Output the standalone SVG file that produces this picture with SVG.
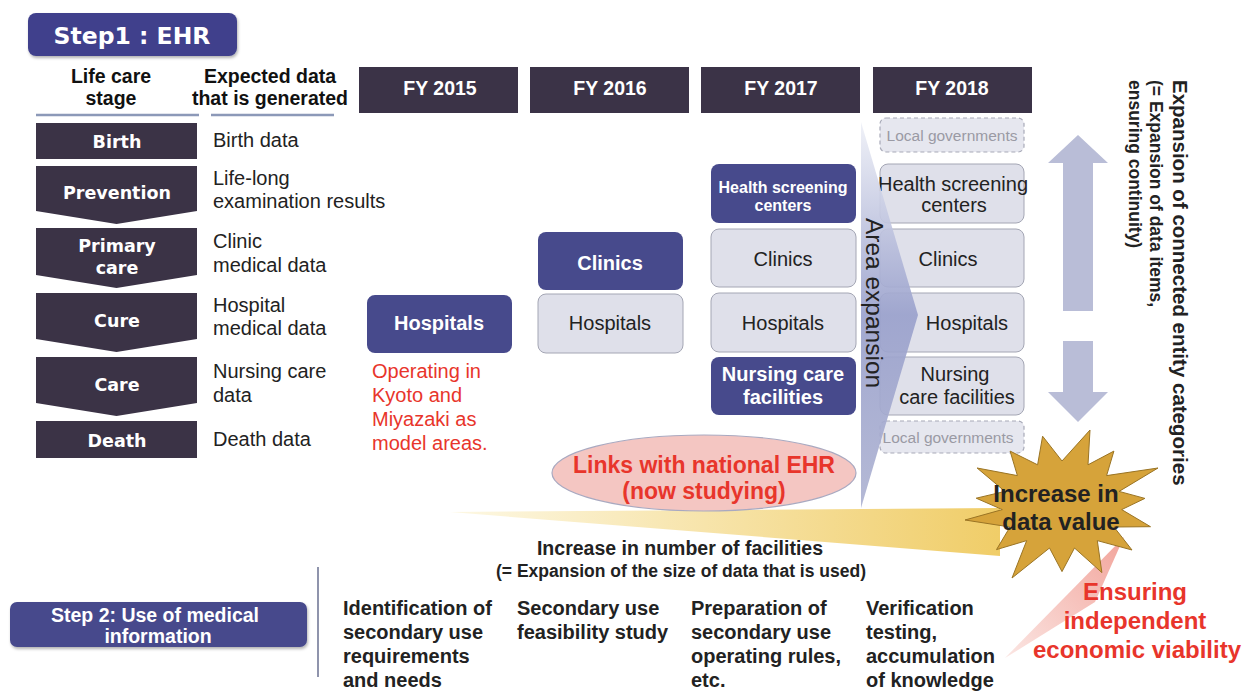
<svg xmlns="http://www.w3.org/2000/svg" width="1259" height="691" viewBox="0 0 1259 691">
<defs>
<style>
.sans{font-family:"Liberation Sans",Arial,sans-serif}
.stage{fill:#3b3346}
.stxt{font-family:"DejaVu Sans",Verdana,sans-serif;font-weight:bold;font-size:17.5px;fill:#fff;text-anchor:middle}
.fy{fill:#3b3347}
.fytxt{font-family:"Liberation Sans",Arial,sans-serif;font-weight:bold;font-size:19.5px;fill:#fff;text-anchor:middle}
.hdr{font-family:"Liberation Sans",Arial,sans-serif;font-weight:bold;font-size:19.5px;fill:#111;text-anchor:middle}
.data{font-family:"Liberation Sans",Arial,sans-serif;font-size:20px;fill:#222}
.dark{fill:#474a8c}
.light{fill:#dfe0ea;stroke:#a4a6b4;stroke-width:1}
.local{fill:#e6e7ef;stroke:#a8aab8;stroke-width:1.2;stroke-dasharray:4 3}
.wb{font-family:"Liberation Sans",Arial,sans-serif;font-weight:bold;fill:#fff;text-anchor:middle}
.reg{font-family:"Liberation Sans",Arial,sans-serif;font-size:20px;fill:#222;text-anchor:middle}
.gray{font-family:"Liberation Sans",Arial,sans-serif;font-size:15.5px;fill:#9a9aa4;text-anchor:middle}
.red{font-family:"Liberation Sans",Arial,sans-serif;fill:#e8352b}
.bold{font-family:"Liberation Sans",Arial,sans-serif;font-weight:bold;fill:#222}
.arrow{fill:#b9bdd7}
</style>
<linearGradient id="areaGrad" x1="0" y1="0" x2="0" y2="1">
<stop offset="0" stop-color="#eef0f7"/>
<stop offset="0.5" stop-color="#9aa1cc"/>
<stop offset="1" stop-color="#aeb3d2"/>
</linearGradient>
<linearGradient id="yellowGrad" x1="0" y1="0" x2="1" y2="0">
<stop offset="0" stop-color="#fdf8e4"/>
<stop offset="1" stop-color="#f0cd68"/>
</linearGradient>
<linearGradient id="pinkGrad" x1="0" y1="1" x2="1" y2="0">
<stop offset="0" stop-color="#fbe6e3"/>
<stop offset="1" stop-color="#f2a49b"/>
</linearGradient>
<filter id="sh" x="-10%" y="-10%" width="120%" height="130%">
<feDropShadow dx="1" dy="2" stdDeviation="1.5" flood-color="#000" flood-opacity="0.3"/>
</filter>
</defs>
<rect width="1259" height="691" fill="#fff"/>

<!-- connectors / flow shapes -->
<g id="connectors">
<polygon points="450,512 1000,508 1000,556" fill="url(#yellowGrad)"/>
<polygon points="1005,658 1124,537 1095,602" fill="url(#pinkGrad)"/>
<path class="arrow" d="M1078,135 L1108,163 H1093 V311 H1063 V163 H1048 Z"/>
<path class="arrow" d="M1063,341 H1093 V392 H1108 L1078,422 L1048,392 H1063 Z"/>
<line x1="318" y1="567" x2="318" y2="677" stroke="#6a7090" stroke-width="1.5"/>
</g>

<!-- Step 1 title -->
<g id="step1">
<rect x="28" y="13" width="209" height="43" rx="8" fill="#3f418c" filter="url(#sh)"/>
<text x="132" y="44" font-family="DejaVu Sans,Verdana,sans-serif" font-weight="bold" font-size="23.5" fill="#fff" text-anchor="middle">Step1 : EHR</text>
</g>

<!-- Column headers -->
<g id="header-stage">
<text class="hdr" x="111" y="83">Life care</text>
<text class="hdr" x="111" y="105">stage</text>
<line x1="36" y1="115" x2="199" y2="115" stroke="#8c99b8" stroke-width="2.5"/>
</g>
<g id="header-data">
<text class="hdr" x="270" y="83">Expected data</text>
<text class="hdr" x="270" y="105">that is generated</text>
<line x1="211" y1="115" x2="334" y2="115" stroke="#8c99b8" stroke-width="2.5"/>
</g>
<g id="fy2015"><rect class="fy" x="359" y="67" width="159" height="46"/><text class="fytxt" x="440" y="95">FY 2015</text></g>
<g id="fy2016"><rect class="fy" x="530" y="67" width="159" height="46"/><text class="fytxt" x="610" y="95">FY 2016</text></g>
<g id="fy2017"><rect class="fy" x="701" y="67" width="159" height="46"/><text class="fytxt" x="781" y="95">FY 2017</text></g>
<g id="fy2018"><rect class="fy" x="873" y="67" width="159" height="46"/><text class="fytxt" x="952" y="95">FY 2018</text></g>

<!-- Life stages -->
<g id="stage-birth"><rect class="stage" x="36" y="123" width="161" height="36"/><text class="stxt" x="117" y="148">Birth</text></g>
<g id="stage-prevention"><path class="stage" d="M36,166 H197 V211 L116.5,224 L36,211 Z"/><text class="stxt" x="117" y="199">Prevention</text></g>
<g id="stage-primary"><path class="stage" d="M36,228 H197 V275 L116.5,288 L36,275 Z"/><text class="stxt" x="117" y="252">Primary</text><text class="stxt" x="117" y="274">care</text></g>
<g id="stage-cure"><path class="stage" d="M36,293 H197 V339 L116.5,352 L36,339 Z"/><text class="stxt" x="117" y="327">Cure</text></g>
<g id="stage-care"><path class="stage" d="M36,357 H197 V403 L116.5,416 L36,403 Z"/><text class="stxt" x="117" y="391">Care</text></g>
<g id="stage-death"><rect class="stage" x="36" y="421" width="161" height="37"/><text class="stxt" x="117" y="447">Death</text></g>

<!-- Data texts -->
<g id="data-texts">
<text class="data" x="213" y="147">Birth data</text>
<text class="data" x="213" y="185">Life-long</text>
<text class="data" x="213" y="208">examination results</text>
<text class="data" x="213" y="248">Clinic</text>
<text class="data" x="213" y="272">medical data</text>
<text class="data" x="213" y="312">Hospital</text>
<text class="data" x="213" y="335">medical data</text>
<text class="data" x="213" y="378">Nursing care</text>
<text class="data" x="213" y="402">data</text>
<text class="data" x="213" y="446">Death data</text>
</g>

<!-- FY2015 -->
<g id="n2015-hospitals"><rect class="dark" x="367" y="295" width="145" height="58" rx="8"/><text class="wb" x="439" y="330" font-size="20">Hospitals</text></g>
<g id="n2015-note">
<text class="red" x="372" y="378" font-size="20">Operating in</text>
<text class="red" x="372" y="402" font-size="20">Kyoto and</text>
<text class="red" x="372" y="426" font-size="20">Miyazaki as</text>
<text class="red" x="372" y="450" font-size="20">model areas.</text>
</g>

<!-- FY2016 -->
<g id="n2016-clinics"><rect class="dark" x="538" y="232" width="145" height="58" rx="8"/><text class="wb" x="610" y="270" font-size="20">Clinics</text></g>
<g id="n2016-hospitals"><rect class="light" x="538" y="294" width="145" height="59" rx="8"/><text class="reg" x="610" y="330">Hospitals</text></g>

<!-- FY2017 -->
<g id="n2017-hsc"><rect class="dark" x="711" y="164" width="145" height="59" rx="8"/><text class="wb" x="783" y="193" font-size="16">Health screening</text><text class="wb" x="783" y="211" font-size="16">centers</text></g>
<g id="n2017-clinics"><rect class="light" x="711" y="229" width="145" height="58" rx="8"/><text class="reg" x="783" y="266">Clinics</text></g>
<g id="n2017-hospitals"><rect class="light" x="711" y="293" width="145" height="59" rx="8"/><text class="reg" x="783" y="330">Hospitals</text></g>
<g id="n2017-nursing"><rect class="dark" x="711" y="357" width="145" height="58" rx="8"/><text class="wb" x="783" y="381" font-size="20">Nursing care</text><text class="wb" x="783" y="404" font-size="20">facilities</text></g>

<!-- FY2018 -->
<g id="n2018-local-top"><rect class="local" x="880" y="118" width="144" height="34" rx="6"/><text class="gray" x="952" y="141">Local governments</text></g>
<g id="n2018-hsc"><rect class="light" x="880" y="164" width="144" height="59" rx="8"/><text class="reg" x="953" y="191" font-size="17">Health screening</text><text class="reg" x="954" y="212" font-size="17">centers</text></g>
<g id="n2018-clinics"><rect class="light" x="880" y="229" width="144" height="58" rx="8"/><text class="reg" x="948" y="266">Clinics</text></g>
<g id="n2018-hospitals"><rect class="light" x="880" y="293" width="144" height="59" rx="8"/></g>
<g id="n2018-nursing"><rect class="light" x="880" y="357" width="144" height="58" rx="8"/><text class="reg" x="955" y="381">Nursing</text><text class="reg" x="957" y="404">care facilities</text></g>
<g id="n2018-local-bottom"><rect class="local" x="880" y="421" width="144" height="32" rx="6"/><text class="gray" x="948" y="443">Local governments</text></g>

<!-- Area expansion arrow -->
<g id="area-expansion">
<polygon points="861,122 918,315 861,508" fill="url(#areaGrad)" opacity="0.92"/>
<text class="sans" transform="translate(866,303) rotate(90)" font-size="24.5" fill="#222" text-anchor="middle">Area expansion</text>
</g>
<g id="n2018-hospitals-label"><text class="reg" x="967" y="330">Hospitals</text></g>

<!-- Vertical caption -->
<g id="entity-expansion">
<text class="bold" transform="translate(1173,80) rotate(90)" font-size="20.5">Expansion of connected entity categories</text>
<text class="bold" transform="translate(1150,80) rotate(90)" font-size="17.5">(= Expansion of data items,</text>
<text class="bold" transform="translate(1129,80) rotate(90)" font-size="17.5">ensuring continuity)</text>
</g>

<!-- National EHR -->
<g id="national-ehr">
<ellipse cx="704" cy="473" rx="152" ry="38" fill="#f4c6c2" stroke="#a9a9c0" stroke-width="1.2"/>
<text class="red" x="704" y="473" font-size="23" font-weight="bold" text-anchor="middle">Links with national EHR</text>
<text class="red" x="704" y="499" font-size="23" font-weight="bold" text-anchor="middle">(now studying)</text>
</g>

<!-- Facilities text -->
<g id="facilities">
<text class="bold" x="680" y="555" font-size="19.5" text-anchor="middle">Increase in number of facilities</text>
<text class="bold" x="681" y="577" font-size="17.5" text-anchor="middle">(= Expansion of the size of data that is used)</text>
</g>

<!-- Data value star -->
<g id="data-value">
<polygon fill="#d6a33a" stroke="#9a7424" stroke-width="1" points="1090,430 1088,464.8 1113.9,451.1 1106.6,475.6 1158,468 1119.1,491.4 1144.9,498.4 1121.7,509.6 1150.5,526.7 1114,527 1132,550 1097.3,540.6 1101.9,572.6 1074.5,548 1062,571.6 1049.5,548 1012,578 1026.7,540.6 996.5,549.6 1010,527 965,520 1002.3,509.6 976.2,498.2 1004.9,491.4 977.1,468 1017.4,475.6 1010.1,451.1 1037.6,464.8 1042.6,436.2 1062,461"/>
<text class="bold" x="1056" y="502" font-size="24" text-anchor="middle">Increase in</text>
<text class="bold" x="1061" y="530" font-size="24" text-anchor="middle">data value</text>
</g>

<!-- Economic viability -->
<g id="viability">
<text class="red" x="1135" y="600" font-size="24" font-weight="bold" text-anchor="middle">Ensuring</text>
<text class="red" x="1135" y="629" font-size="24" font-weight="bold" text-anchor="middle">independent</text>
<text class="red" x="1137" y="658" font-size="24" font-weight="bold" text-anchor="middle">economic viability</text>
</g>

<!-- Step 2 -->
<g id="step2">
<rect x="10" y="602" width="297" height="45" rx="7" fill="#474a8c" filter="url(#sh)"/>
<text class="wb" x="155" y="622" font-size="19.5">Step 2: Use of medical</text>
<text class="wb" x="158" y="643" font-size="19.5">information</text>
</g>
<g id="step2-col1">
<text class="bold" x="343" y="615" font-size="20">Identification of</text>
<text class="bold" x="343" y="639" font-size="20">secondary use</text>
<text class="bold" x="343" y="663" font-size="20">requirements</text>
<text class="bold" x="343" y="687" font-size="20">and needs</text>
</g>
<g id="step2-col2">
<text class="bold" x="517" y="615" font-size="20">Secondary use</text>
<text class="bold" x="517" y="639" font-size="20">feasibility study</text>
</g>
<g id="step2-col3">
<text class="bold" x="691" y="615" font-size="20">Preparation of</text>
<text class="bold" x="691" y="639" font-size="20">secondary use</text>
<text class="bold" x="691" y="663" font-size="20">operating rules,</text>
<text class="bold" x="691" y="687" font-size="20">etc.</text>
</g>
<g id="step2-col4">
<text class="bold" x="866" y="615" font-size="20">Verification</text>
<text class="bold" x="866" y="639" font-size="20">testing,</text>
<text class="bold" x="866" y="663" font-size="20">accumulation</text>
<text class="bold" x="866" y="687" font-size="20">of knowledge</text>
</g>
</svg>
